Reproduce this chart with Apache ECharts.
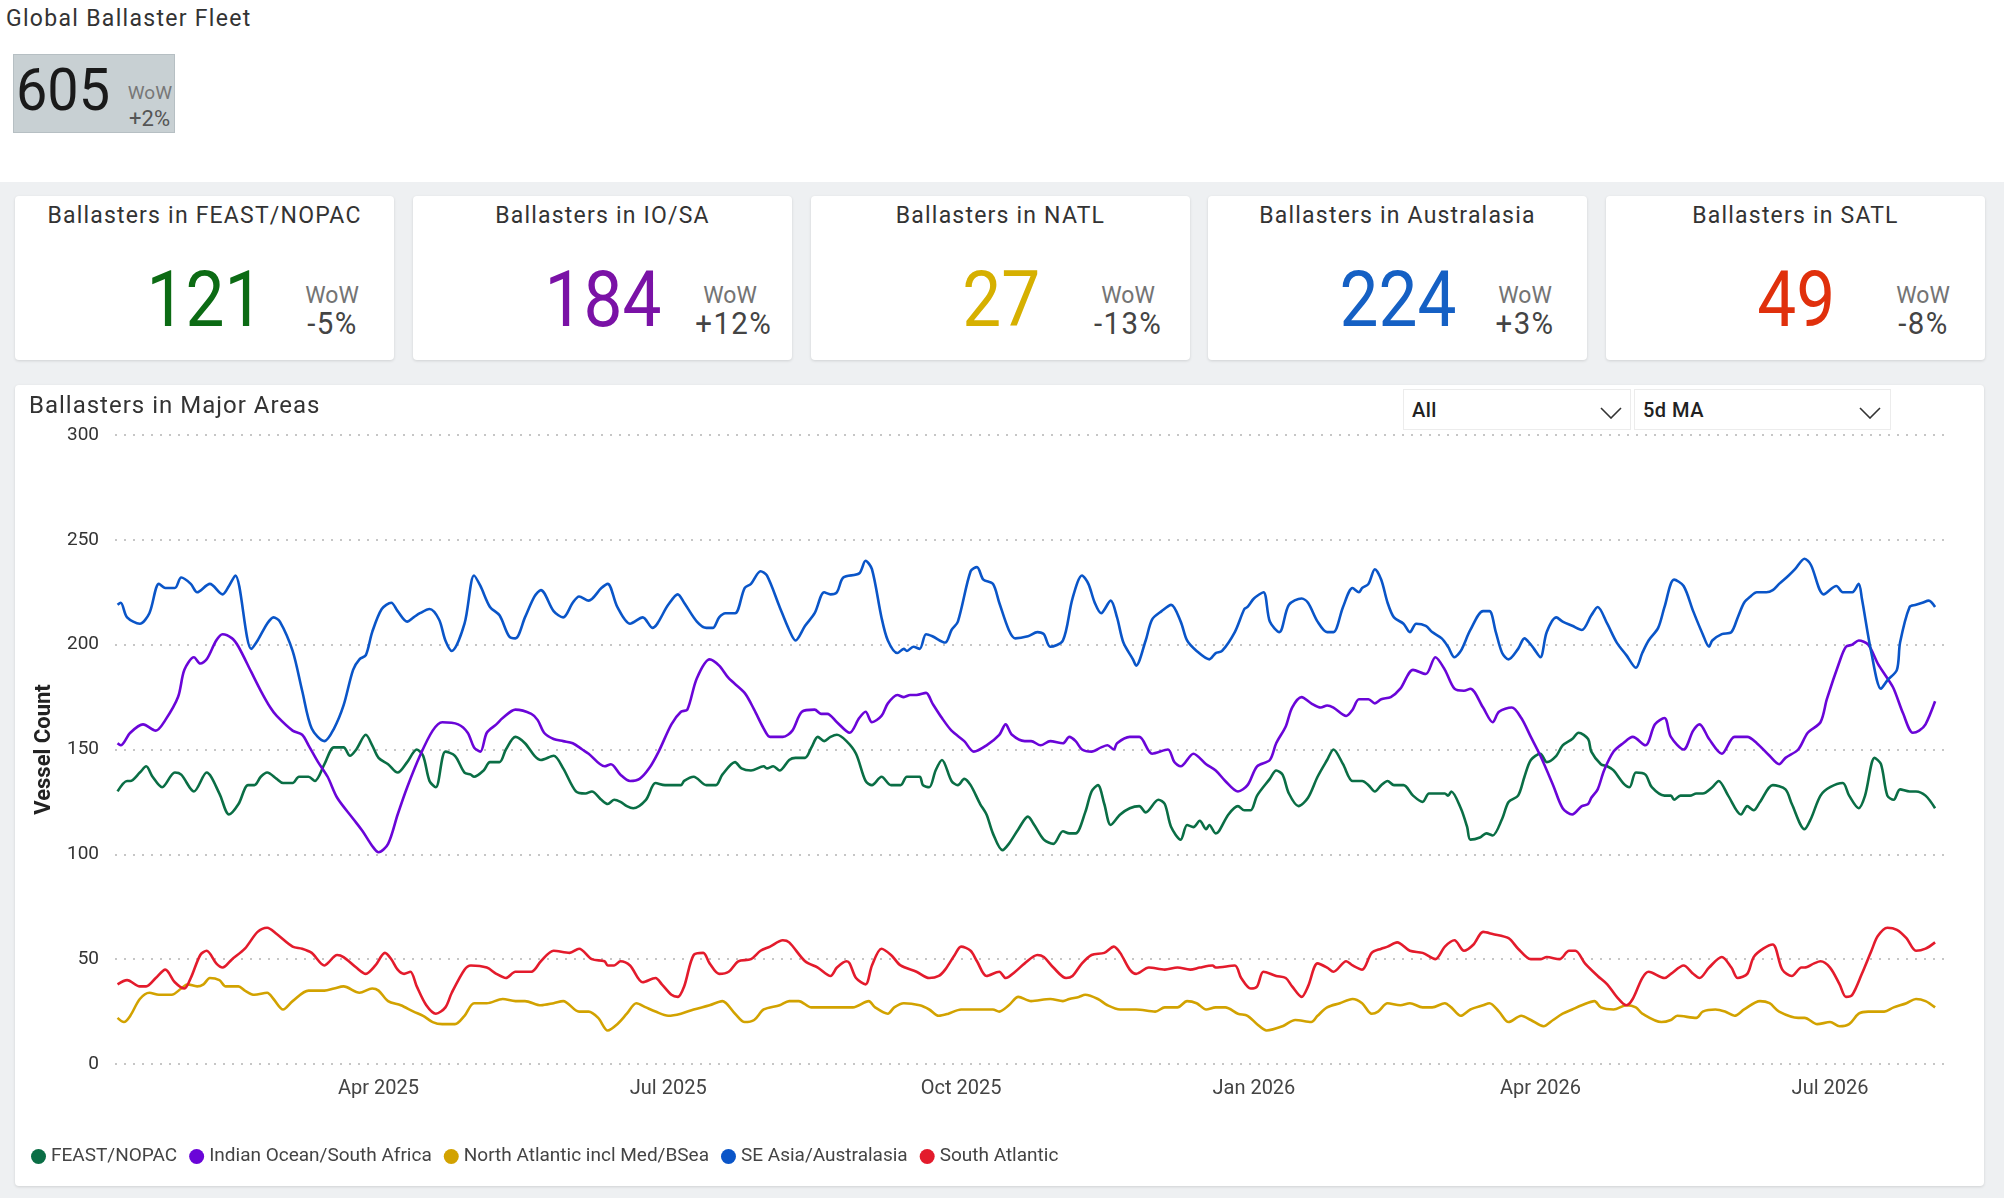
<!DOCTYPE html>
<html>
<head>
<meta charset="utf-8">
<script src="https://cdn.jsdelivr.net/npm/echarts@6/dist/echarts.min.js"></script>
<style>
  body {
    margin: 0;
    width: 2004px;
    height: 1198px;
    position: relative;
    overflow: hidden;
    background: #fff;
    font-family: Roboto, 'Noto Sans', sans-serif;
    color: #333;
  }
  .band { position: absolute; left: 0; top: 182px; width: 2004px; height: 1016px; background: #eef0f2; }
  .card { position: absolute; background: #fff; border-radius: 4px; box-shadow: 0 1px 3px rgba(0,0,0,0.13); }
  .kpi { top: 196px; width: 379px; height: 164px; }
  .kpi .title { position: absolute; left: 0; top: 8px; width: 100%; text-align: center; font-size: 23px; line-height: 1; letter-spacing: 1.2px; color: #333; white-space: nowrap; }
  .kpi .num { position: absolute; left: 120px; top: 66px; width: 140px; text-align: center; font-size: 77px; line-height: 1; }
  .kpi .num span { display: inline-block; transform: scaleX(0.9); }
  .kpi .wow { position: absolute; left: 279px; width: 76px; text-align: center; line-height: 1; white-space: nowrap; }
  .kpi .wow.lbl { top: 88px; font-size: 23px; color: #747474; }
  .kpi .wow.pct { top: 111px; font-size: 32px; color: #444; }
  .kpi .wow.pct span { display: inline-block; transform: scaleX(0.92); letter-spacing: 1.5px; }
  .head { position: absolute; left: 6px; top: 7px; font-size: 23px; line-height: 1; letter-spacing: 1.3px; color: #333; }
  .total { position: absolute; left: 13px; top: 54px; width: 160px; height: 77px; background: #c8d0d3; border: 1px solid #b6bfc3; }
  .total .big { position: absolute; left: 2px; top: 5px; font-size: 60px; line-height: 1; color: #1a1a1a; transform: scaleX(0.93); transform-origin: left center; }
  .total .lbl { position: absolute; right: 2px; top: 28px; font-size: 19px; line-height: 1; color: #777; }
  .total .pct { position: absolute; right: 4px; top: 53px; font-size: 22px; line-height: 1; color: #555; }
  .ctitle { position: absolute; left: 29px; top: 393px; font-size: 24px; line-height: 1; letter-spacing: 1px; color: #333; z-index: 2; }
  .dd { position: absolute; top: 389px; height: 41px; background: #fff; border: 1px solid #ececec; box-sizing: border-box; z-index: 2; }
  .dd .txt { position: absolute; left: 8px; top: 0; line-height: 41px; font-size: 20px; font-weight: 500; color: #222; letter-spacing: 0.5px; }
  .dd svg { position: absolute; top: 17px; }
  #chart { position: absolute; left: 15px; top: 385px; width: 1969px; height: 801px; z-index: 1; }
</style>
</head>
<body>
<div class="band"></div>

<div class="head">Global Ballaster Fleet</div>
<div class="total">
  <div class="big">605</div>
  <div class="lbl">WoW</div>
  <div class="pct">+2%</div>
</div>

<div id="kpis"></div>

<div class="card" style="left:15px;top:385px;width:1969px;height:801px;"></div>
<div class="ctitle">Ballasters in Major Areas</div>
<div class="dd" style="left:1403px;width:228px;">
  <div class="txt">All</div>
  <svg style="left:196px" width="22" height="12" viewBox="0 0 22 12"><polyline points="1,1 11,11 21,1" fill="none" stroke="#333" stroke-width="1.6"/></svg>
</div>
<div class="dd" style="left:1634px;width:257px;">
  <div class="txt">5d MA</div>
  <svg style="left:224px" width="22" height="12" viewBox="0 0 22 12"><polyline points="1,1 11,11 21,1" fill="none" stroke="#333" stroke-width="1.6"/></svg>
</div>
<div id="chart"></div>

<script>
// KPI cards
const kpiTitles = ['Ballasters in FEAST/NOPAC', 'Ballasters in IO/SA', 'Ballasters in NATL', 'Ballasters in Australasia', 'Ballasters in SATL'];
const kpiValues = [121, 184, 27, 224, 49];
const kpiWow = ['-5%', '+12%', '-13%', '+3%', '-8%'];
const kpiColors = ['#0c6b14', '#7a12a6', '#d6b000', '#1560c4', '#e0300c'];
const kpiLeft = [15, 413, 811, 1208, 1606];

// line series: [day since 2025-01-09, vessel count]
const seriesNames = ['FEAST/NOPAC', 'Indian Ocean/South Africa', 'North Atlantic incl Med/BSea', 'SE Asia/Australasia', 'South Atlantic'];
const seriesColors = ['#0a6e45', '#6a05d8', '#d2a200', '#0a55c8', '#e31b2c'];

const feast = [[0,130],[3,135],[4,135],[7,139],[9,142],[11,137],[14,132],[18,139],[20,138],[24,130],[28,139],[32,129],[35,119],[38,124],[41,133],[43,133],[45,137],[47,139],[50,136],[52,134],[55,134],[57,137],[60,137],[62,135],[65,143],[68,151],[71,151],[73,147],[75,150],[78,157],[80,152],[82,146],[85,143],[88,139],[91,144],[94,150],[96,147],[98,135],[100,132],[103,149],[106,147],[109,139],[111,138],[112,137],[115,140],[117,144],[120,144],[122,150],[125,156],[128,153],[131,147],[133,145],[137,147],[140,141],[144,130],[147,129],[149,130],[152,126],[154,124],[156,126],[158,125],[160,123],[162,122],[166,126],[169,134],[172,133],[177,133],[178,135],[181,137],[185,133],[188,133],[190,138],[194,144],[196,141],[199,140],[203,142],[204,141],[206,142],[208,140],[211,145],[213,146],[216,146],[218,151],[220,156],[222,154],[224,156],[226,157],[229,154],[232,148],[235,135],[237,133],[240,137],[243,133],[246,133],[248,137],[252,137],[253,133],[255,132],[257,140],[259,145],[262,135],[264,133],[266,136],[268,133],[271,124],[273,119],[275,110],[278,102],[280,105],[283,112],[286,118],[288,114],[291,107],[294,105],[297,111],[299,110],[301,110],[304,120],[306,130],[308,133],[310,124],[312,114],[315,119],[318,122],[321,123],[323,120],[327,126],[329,124],[331,113],[334,107],[336,114],[338,113],[340,116],[342,112],[343,114],[345,110],[346,111],[349,119],[352,123],[354,121],[356,121],[358,128],[362,136],[364,140],[366,138],[368,129],[371,123],[374,127],[377,137],[380,145],[382,150],[385,143],[388,135],[391,135],[393,133],[395,130],[397,133],[399,135],[401,133],[404,133],[407,128],[410,125],[412,129],[414,129],[417,129],[418,128],[419,130],[422,122],[424,113],[425,107],[428,108],[430,110],[432,109],[435,117],[437,125],[440,128],[442,137],[444,145],[447,148],[449,144],[452,147],[454,152],[457,155],[459,158],[462,155],[463,149],[466,143],[468,142],[470,140],[473,134],[475,132],[477,139],[480,138],[482,132],[486,128],[488,128],[489,126],[491,128],[494,128],[496,129],[498,129],[501,132],[503,135],[506,128],[510,119],[512,123],[514,121],[516,125],[520,133],[524,131],[526,124],[530,112],[532,117],[535,128],[538,132],[542,134],[544,128],[547,122],[549,128],[552,146],[554,143],[556,128],[558,126],[560,131],[563,130],[565,130],[568,128],[571,122]];

const indianOcean = [[0,153],[1,152],[4,158],[8,162],[12,159],[15,164],[19,175],[21,188],[24,194],[26,191],[28,193],[31,202],[33,205],[36,203],[38,199],[42,187],[45,178],[48,170],[50,166],[55,159],[58,157],[60,152],[63,144],[66,137],[69,127],[74,117],[77,111],[80,104],[82,101],[85,105],[88,119],[91,132],[95,147],[99,159],[102,163],[107,162],[110,158],[112,151],[114,149],[116,158],[119,162],[121,165],[125,169],[130,167],[132,164],[134,158],[137,155],[140,154],[143,153],[146,150],[148,148],[153,142],[155,143],[158,138],[161,135],[164,136],[167,141],[170,149],[174,162],[177,168],[179,169],[182,184],[186,193],[189,190],[192,184],[197,177],[200,169],[203,160],[205,156],[209,156],[212,159],[215,168],[219,169],[221,167],[223,167],[226,163],[230,158],[233,165],[235,168],[237,163],[240,166],[242,172],[245,176],[247,175],[249,176],[251,176],[254,177],[256,172],[259,165],[262,159],[266,154],[269,149],[273,152],[277,157],[279,162],[281,157],[285,154],[287,154],[290,152],[293,154],[297,153],[299,156],[301,154],[303,150],[306,149],[309,151],[311,152],[313,150],[314,153],[318,156],[321,156],[325,148],[330,150],[332,144],[334,142],[338,148],[342,143],[345,140],[348,135],[352,130],[355,133],[358,142],[362,145],[364,153],[367,161],[369,170],[372,175],[375,172],[378,170],[380,171],[382,170],[386,166],[388,169],[390,174],[393,174],[395,172],[397,174],[400,175],[403,179],[407,188],[411,186],[414,194],[417,188],[420,179],[423,178],[425,179],[429,170],[432,163],[434,168],[438,170],[441,165],[444,156],[447,147],[451,133],[454,122],[457,119],[460,123],[462,124],[463,127],[465,131],[467,140],[470,149],[473,153],[476,156],[480,152],[483,162],[486,165],[488,156],[492,150],[495,159],[497,162],[500,155],[504,148],[508,156],[512,156],[515,153],[519,147],[522,143],[524,146],[528,150],[531,158],[535,163],[537,174],[541,192],[543,199],[545,200],[547,202],[550,200],[553,191],[556,184],[558,179],[561,167],[564,158],[566,159],[568,162],[571,173]];

const northAtlantic = [[0,22],[2,20],[4,23],[7,31],[10,34],[13,33],[17,33],[20,36],[22,38],[25,37],[27,38],[29,41],[32,40],[34,37],[38,37],[40,35],[43,33],[47,34],[49,31],[52,26],[55,30],[60,35],[65,35],[68,36],[71,37],[76,34],[80,36],[82,35],[85,30],[89,28],[93,25],[96,23],[99,20],[102,19],[106,19],[109,23],[112,29],[116,29],[121,31],[125,30],[128,30],[133,28],[137,29],[140,30],[145,25],[148,25],[151,22],[154,16],[157,19],[160,24],[163,29],[166,27],[169,25],[173,23],[177,24],[181,26],[186,28],[190,30],[194,24],[197,20],[200,21],[203,26],[208,28],[211,30],[214,30],[218,27],[221,27],[225,27],[231,27],[236,30],[238,27],[242,24],[244,27],[247,29],[252,28],[255,26],[258,23],[261,24],[265,26],[270,26],[275,26],[277,25],[280,28],[283,32],[287,30],[293,31],[297,30],[299,31],[302,32],[304,33],[308,31],[311,28],[315,26],[320,26],[326,25],[329,27],[333,27],[336,30],[339,29],[342,26],[345,27],[348,27],[352,24],[355,23],[358,19],[361,16],[366,18],[370,21],[375,20],[377,23],[380,27],[384,29],[388,31],[391,29],[394,24],[396,25],[399,29],[403,28],[406,29],[410,27],[413,27],[417,29],[419,27],[422,23],[425,26],[429,28],[431,29],[434,25],[437,20],[441,23],[444,21],[448,18],[451,21],[454,24],[457,26],[460,28],[464,30],[466,27],[470,26],[474,28],[477,27],[479,24],[485,20],[488,21],[490,23],[496,22],[498,25],[502,26],[505,25],[508,23],[511,26],[516,30],[519,29],[522,25],[528,22],[530,22],[534,19],[538,20],[541,18],[544,19],[547,24],[550,25],[555,25],[558,27],[562,29],[565,31],[568,30],[571,27]];

const seAsia = [[0,219],[1,220],[3,213],[7,210],[10,215],[13,229],[15,227],[18,227],[20,232],[23,229],[25,225],[29,229],[33,224],[35,228],[37,233],[42,198],[44,202],[47,210],[49,213],[51,211],[55,197],[58,178],[61,160],[65,154],[68,160],[71,171],[74,188],[76,193],[78,195],[80,206],[83,217],[86,220],[88,216],[91,211],[93,213],[95,215],[98,217],[101,212],[103,202],[105,197],[109,210],[112,233],[114,228],[117,218],[120,214],[123,204],[125,203],[128,213],[131,223],[133,226],[137,216],[140,213],[143,220],[145,223],[148,221],[152,227],[154,229],[157,218],[161,210],[165,213],[168,208],[173,219],[176,224],[178,220],[182,211],[185,208],[187,208],[189,213],[191,215],[194,215],[197,227],[199,229],[202,235],[204,233],[208,218],[211,207],[213,202],[216,209],[219,215],[222,225],[224,224],[226,225],[228,232],[233,234],[235,240],[237,236],[240,213],[242,202],[245,196],[247,198],[248,197],[250,199],[252,198],[254,205],[256,204],[260,201],[262,207],[264,211],[268,235],[270,237],[272,231],[275,229],[277,220],[280,207],[282,203],[286,204],[289,206],[291,205],[293,199],[297,202],[300,222],[303,233],[305,229],[307,220],[309,215],[312,221],[314,213],[316,201],[319,193],[320,190],[323,202],[325,212],[328,216],[331,219],[334,211],[336,202],[339,197],[343,193],[345,196],[347,197],[351,206],[354,217],[355,218],[357,222],[360,225],[362,211],[365,206],[368,219],[372,222],[374,220],[377,211],[380,206],[382,206],[385,218],[388,227],[390,225],[391,227],[393,229],[395,236],[397,231],[399,220],[401,213],[404,210],[406,206],[408,210],[411,209],[413,206],[416,203],[418,199],[420,194],[422,197],[425,207],[429,216],[431,216],[433,206],[435,196],[437,193],[440,198],[442,203],[444,200],[445,198],[447,194],[449,206],[452,213],[454,211],[457,209],[460,207],[463,214],[465,218],[468,210],[471,201],[474,195],[477,189],[479,196],[481,202],[484,208],[486,218],[489,231],[492,228],[495,216],[498,205],[500,199],[501,202],[504,205],[507,206],[509,213],[511,220],[513,223],[515,225],[518,225],[520,226],[522,229],[525,233],[527,236],[530,241],[532,238],[536,224],[540,228],[542,225],[545,225],[547,229],[548,222],[551,196],[554,179],[556,183],[559,188],[560,201],[563,218],[565,219],[567,220],[569,221],[571,218]];

const southAtlantic = [[0,38],[3,40],[7,37],[9,37],[12,41],[15,45],[18,39],[21,36],[23,41],[26,52],[28,54],[31,48],[33,46],[36,50],[40,55],[44,63],[47,65],[50,62],[55,56],[58,55],[61,53],[65,47],[66,48],[69,52],[71,51],[75,46],[78,43],[81,47],[84,53],[86,50],[88,45],[90,43],[92,44],[94,37],[97,28],[100,24],[103,27],[105,34],[109,45],[111,47],[116,46],[119,43],[122,41],[125,44],[130,44],[133,49],[137,54],[142,53],[145,55],[149,50],[153,49],[154,47],[156,47],[158,49],[161,47],[165,39],[169,41],[171,38],[174,33],[176,32],[178,37],[181,52],[184,53],[186,48],[189,43],[192,44],[195,49],[199,50],[202,54],[205,56],[209,59],[211,58],[216,49],[220,46],[224,42],[226,46],[229,49],[230,48],[232,41],[235,38],[237,47],[240,55],[243,52],[246,47],[251,44],[255,41],[258,42],[260,45],[263,52],[265,56],[268,54],[270,49],[273,42],[277,44],[279,41],[282,44],[285,48],[289,52],[291,51],[294,46],[298,41],[300,42],[303,48],[306,52],[310,53],[313,56],[315,53],[318,45],[320,43],[324,46],[329,45],[333,46],[337,45],[340,46],[344,47],[345,46],[351,47],[353,41],[356,36],[358,37],[360,44],[364,42],[367,41],[369,37],[372,32],[374,37],[377,48],[380,46],[382,44],[386,49],[388,47],[391,45],[394,53],[397,55],[399,56],[402,58],[406,54],[410,53],[414,50],[417,56],[420,59],[423,54],[426,57],[429,63],[432,62],[437,60],[440,55],[444,50],[447,50],[449,51],[453,50],[456,54],[458,54],[461,48],[465,42],[468,38],[471,32],[474,28],[476,31],[479,41],[481,44],[486,41],[488,43],[492,47],[495,43],[497,41],[500,46],[504,51],[507,46],[509,41],[512,43],[514,51],[517,55],[520,57],[523,45],[526,42],[529,46],[530,46],[533,48],[535,49],[538,46],[541,38],[543,32],[545,33],[548,43],[551,54],[553,61],[556,65],[559,64],[562,60],[565,54],[568,55],[571,58]];

const xTickDates = ['2025-04-01', '2025-07-01', '2025-10-01', '2026-01-01', '2026-04-01', '2026-07-01'];
const monthNames = ['Jan', 'Feb', 'Mar', 'Apr', 'May', 'Jun', 'Jul', 'Aug', 'Sep', 'Oct', 'Nov', 'Dec'];

// build KPI cards
const kpiBox = document.getElementById('kpis');
kpiTitles.forEach((t, i) => {
  const c = document.createElement('div');
  c.className = 'card kpi';
  c.style.left = kpiLeft[i] + 'px';
  c.innerHTML =
    '<div class="title">' + t + '</div>' +
    '<div class="num" style="color:' + kpiColors[i] + '"><span>' + kpiValues[i] + '</span></div>' +
    '<div class="wow lbl">WoW</div>' +
    '<div class="wow pct"><span>' + kpiWow[i] + '</span></div>';
  kpiBox.appendChild(c);
});

// x axis counts days from the first data day
const DAY = 86400000;
const t0 = Date.UTC(2025, 0, 9);
const dayOf = s => Math.round((Date.parse(s + 'T00:00:00Z') - t0) / DAY);
const dayLabel = d => {
  const dt = new Date(t0 + d * DAY);
  return monthNames[dt.getUTCMonth()] + ' ' + dt.getUTCFullYear();
};
const allSeries = [feast, indianOcean, northAtlantic, seAsia, southAtlantic];

const chart = echarts.init(document.getElementById('chart'));
chart.setOption({
  animation: false,
  textStyle: { fontFamily: 'Roboto, sans-serif' },
  color: seriesColors,
  grid: { left: 100, right: 36.5, top: 50, bottom: 122 },
  legend: {
    left: 16,
    top: 762,
    padding: 0,
    icon: 'circle',
    itemWidth: 15,
    itemHeight: 15,
    itemGap: 12,
    textStyle: { fontSize: 19, color: '#444' }
  },
  xAxis: {
    type: 'value',
    min: -0.8,
    max: 574.9,
    axisLine: { show: false },
    axisTick: { show: false },
    splitLine: { show: false },
    axisLabel: {
      customValues: xTickDates.map(dayOf),
      formatter: v => dayLabel(v),
      fontSize: 20,
      color: '#444',
      margin: 15
    }
  },
  yAxis: {
    type: 'value',
    min: 0,
    max: 300,
    interval: 50,
    name: 'Vessel Count',
    nameLocation: 'middle',
    nameGap: 60,
    nameTextStyle: { fontSize: 22, fontWeight: 'bold', color: '#222' },
    axisLine: { show: false },
    axisTick: { show: false },
    axisLabel: { fontSize: 19, color: '#333', margin: 16 },
    splitLine: { lineStyle: { type: [2, 7], width: 2, color: '#c6c6c6' } }
  },
  series: allSeries.map((data, i) => ({
    name: seriesNames[i],
    type: 'line',
    showSymbol: false,
    smooth: 0.3,
    lineStyle: { width: 2.6, color: seriesColors[i] },
    itemStyle: { color: seriesColors[i] },
    data: data
  }))
});
</script>
</body>
</html>
